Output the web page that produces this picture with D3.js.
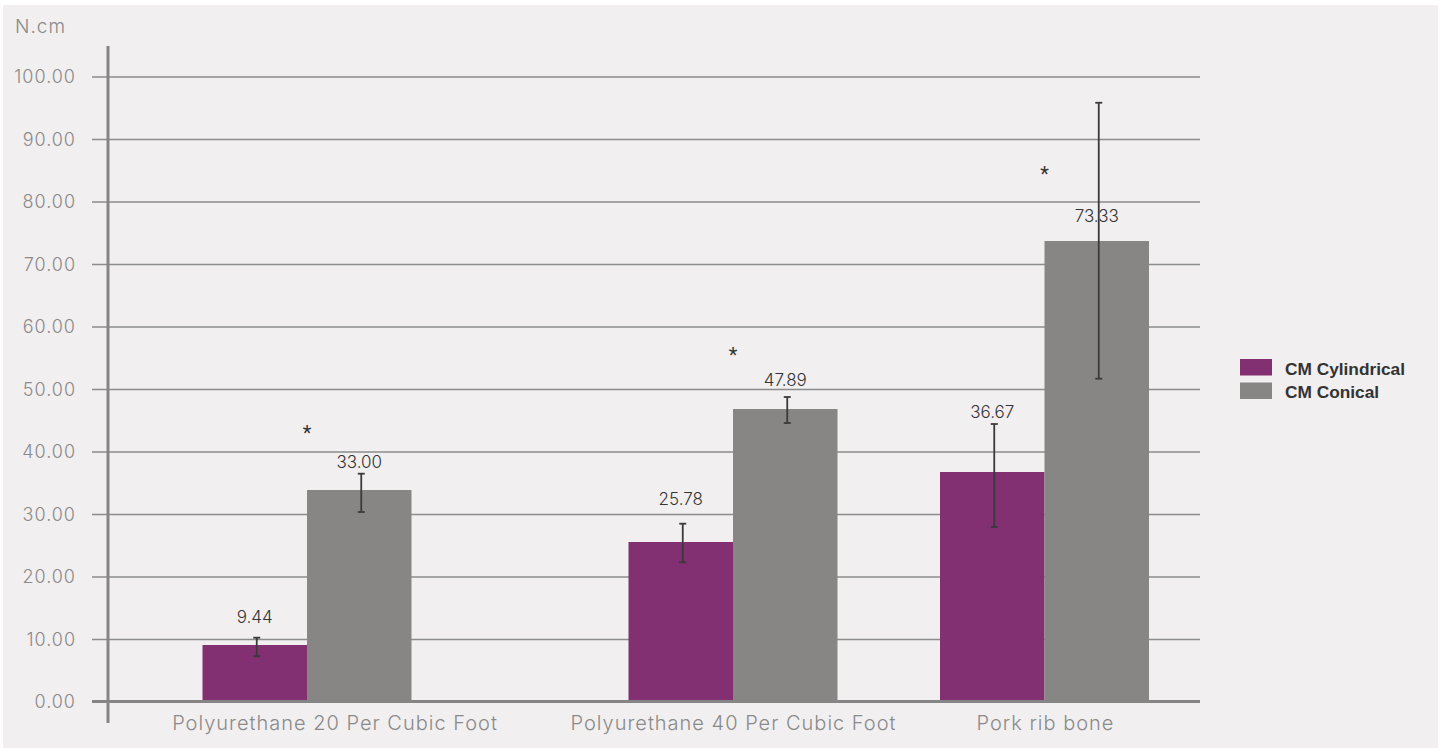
<!DOCTYPE html>
<html><head><meta charset="utf-8">
<script src="https://cdn.jsdelivr.net/npm/d3@7"></script>
<style>
html,body{margin:0;padding:0;background:#ffffff;}
svg{display:block;}
</style></head>
<body>
<svg id="chart" width="1448" height="751"></svg>
<script>
// ---- data ----
const categories = ["Polyurethane 20 Per Cubic Foot", "Polyurethane 40 Per Cubic Foot", "Pork rib bone"];
const seriesNames = ["CM Cylindrical", "CM Conical"];
const cylindricalValues = [9.04, 25.52, 36.72];
const conicalValues = [33.84, 46.8, 73.68];
const cylindricalLabels = ["9.44", "25.78", "36.67"];
const conicalLabels = ["33.00", "47.89", "73.33"];
const cylindricalErrLow = [7.23, 22.27, 27.92];
const cylindricalErrHigh = [10.21, 28.45, 44.4];
const conicalErrLow = [30.32, 44.56, 51.65];
const conicalErrHigh = [36.45, 48.72, 95.8];
const cylindricalLabelAt = [12.56, 31.37, 45.43];
const conicalLabelAt = [37.33, 50.53, 76.8];
const significanceAt = [43.5, 55.9, 84.9];
const significanceMarks = ["*", "*", "*"];
const yTicks = [0, 10, 20, 30, 40, 50, 60, 70, 80, 90, 100];
const yUnit = "N.cm";

const colors = {"CM Cylindrical": "#833073", "CM Conical": "#878684"};

const series = [
  {name: seriesNames[0], values: cylindricalValues, labels: cylindricalLabels, lo: cylindricalErrLow, hi: cylindricalErrHigh, labelAt: cylindricalLabelAt},
  {name: seriesNames[1], values: conicalValues, labels: conicalLabels, lo: conicalErrLow, hi: conicalErrHigh, labelAt: conicalLabelAt}
];

const lightFont = "Inter";

const svg = d3.select("#chart");
// panel background
svg.append("rect").attr("x", 3).attr("y", 5).attr("width", 1435).attr("height", 743).attr("fill", "#f1eff0");

const y = d3.scaleLinear().domain([0, 100]).range([701.5, 76.5]);
const x = d3.scaleOrdinal().domain(categories).range([307, 733, 1044.5]);
const xLabel = d3.scaleOrdinal().domain(categories).range([335, 733.5, 1045.5]);
const xs = d3.scaleBand().domain(seriesNames).range([-104.5, 104.5]).padding(0);

const plotLeft = 108, plotRight = 1200;

// gridlines via axis
const gridAxis = d3.axisLeft(y).tickValues(yTicks.filter(t => t > 0)).tickSize(-(plotRight - 92)).tickFormat("");
const g = svg.append("g").attr("transform", `translate(92,0)`).call(gridAxis);
g.select(".domain").remove();
g.selectAll(".tick line").attr("stroke", "#8c8c8c").attr("stroke-width", 1.4);

// y tick labels
const yAxis = d3.axisLeft(y).tickValues(yTicks).tickSize(0).tickPadding(0).tickFormat(d3.format(".2f"));
const ya = svg.append("g").attr("transform", `translate(76,0)`).call(yAxis);
ya.select(".domain").remove();
ya.selectAll("text").attr("font-family", lightFont).attr("font-weight", 300)
  .attr("font-size", 18).attr("letter-spacing", 1).attr("fill", "#8a8a8a").attr("dy", "0.35em");

// bars
const gBars = svg.append("g");
series.forEach(s => {
  gBars.selectAll(null).data(categories).enter().append("rect")
    .attr("x", (c) => x(c) + xs(s.name))
    .attr("width", xs.bandwidth())
    .attr("y", (c, i) => y(s.values[i]))
    .attr("height", (c, i) => y(0) - y(s.values[i]))
    .attr("fill", colors[s.name]);
});

// baseline and vertical axis
svg.append("line").attr("x1", 92).attr("x2", plotRight).attr("y1", y(0)).attr("y2", y(0))
  .attr("stroke", "#858585").attr("stroke-width", 3);
svg.append("line").attr("x1", plotLeft).attr("x2", plotLeft).attr("y1", 46).attr("y2", 723)
  .attr("stroke", "#858585").attr("stroke-width", 3);

// error bars
const gErr = svg.append("g").attr("stroke", "#3a3a3a").attr("stroke-width", 1.8);
series.forEach(s => {
  categories.forEach((c, i) => {
    const cx = x(c) + xs(s.name) + xs.bandwidth() / 2 + 2;
    gErr.append("line").attr("x1", cx).attr("x2", cx).attr("y1", y(s.hi[i])).attr("y2", y(s.lo[i]));
    gErr.append("line").attr("x1", cx - 3.5).attr("x2", cx + 3.5).attr("y1", y(s.hi[i])).attr("y2", y(s.hi[i]));
    gErr.append("line").attr("x1", cx - 3.5).attr("x2", cx + 3.5).attr("y1", y(s.lo[i])).attr("y2", y(s.lo[i]));
  });
});

// value labels
series.forEach(s => {
  svg.selectAll(null).data(categories).enter().append("text")
    .attr("x", (c) => x(c) + xs(s.name) + xs.bandwidth() / 2)
    .attr("y", (c, i) => y(s.labelAt[i]))
    .attr("text-anchor", "middle")
    .attr("font-family", lightFont).attr("font-weight", 300).attr("font-size", 17)
    .attr("fill", "#333333")
    .text((c, i) => s.labels[i]);
});

// significance asterisks
svg.selectAll(null).data(categories).enter().append("text")
  .attr("x", c => x(c))
  .attr("y", (c, i) => y(significanceAt[i]) + 10)
  .attr("text-anchor", "middle")
  .attr("font-family", "Roboto").attr("font-size", 20).attr("fill", "#333333")
  .text((c, i) => significanceMarks[i]);

// category labels
svg.selectAll(null).data(categories).enter().append("text")
  .attr("x", c => xLabel(c)).attr("y", 730)
  .attr("text-anchor", "middle")
  .attr("font-family", lightFont).attr("font-weight", 300).attr("font-size", 20)
  .attr("letter-spacing", 1)
  .attr("fill", "#8a8a8a")
  .text(c => c);

// unit label
svg.append("text").attr("x", 15).attr("y", 33).attr("font-family", lightFont).attr("font-weight", 300)
  .attr("font-size", 19).attr("letter-spacing", 1).attr("fill", "#8a8a8a").text(yUnit);

// legend
const lg = svg.append("g").attr("transform", "translate(1240,359)");
seriesNames.forEach((n, i) => {
  lg.append("rect").attr("x", 0).attr("y", i * 23.5).attr("width", 32).attr("height", 16.5).attr("fill", colors[n]);
  lg.append("text").attr("x", 45).attr("y", i * 23 + 15.5)
    .attr("font-family", "Liberation Sans").attr("font-weight", "bold").attr("font-size", 17.3)
    .attr("fill", "#333333").text(n);
});
</script>
</body></html>
